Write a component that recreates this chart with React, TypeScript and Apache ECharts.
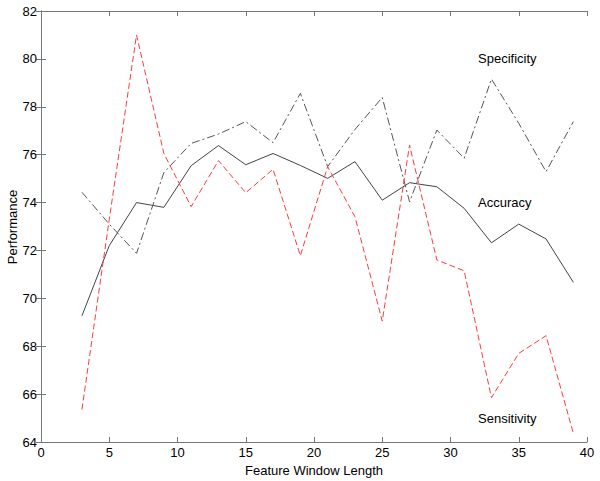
import React, { useEffect, useRef } from "react";
import * as echarts from "echarts";

const windowLengths = [3, 5, 7, 9, 11, 13, 15, 17, 19, 21, 23, 25, 27, 29, 31, 33, 35, 37, 39];
const accuracy = [69.27, 72.2, 74.0, 73.8, 75.54, 76.38, 75.58, 76.05, 75.55, 75.01, 75.71, 74.1, 74.83, 74.66, 73.76, 72.32, 73.1, 72.48, 70.67];
const specificity = [74.43, 73.1, 71.88, 75.25, 76.47, 76.86, 77.38, 76.5, 78.56, 75.5, 77.05, 78.39, 74.03, 77.03, 75.85, 79.16, 77.31, 75.29, 77.38];
const sensitivity = [65.36, 73.3, 81.0, 76.05, 73.83, 75.75, 74.41, 75.39, 71.78, 75.5, 73.41, 69.05, 76.4, 71.6, 71.15, 65.85, 67.7, 68.44, 64.36];
const xTicks = [0, 5, 10, 15, 20, 25, 30, 35, 40];
const yTicks = [64, 66, 68, 70, 72, 74, 76, 78, 80, 82];

const FONT = "Liberation Sans, Arial, sans-serif";

export default function App() {
  const ref = useRef<HTMLDivElement>(null);
  useEffect(() => {
    if (!ref.current) return;
    const chart = echarts.init(ref.current, null, { renderer: "svg" });
    const axisLine = { show: true, lineStyle: { color: "#777", width: 1 } };
    const ticks = { show: true, inside: true, length: 5, lineStyle: { color: "#777" } };
    const label = { color: "#000", fontSize: 13, fontFamily: FONT };
    const toPairs = (ys: number[]) => windowLengths.map((x, i) => [x, ys[i]]);
    chart.setOption({
      animation: false,
      backgroundColor: "#fff",
      grid: { left: 41, right: 13, top: 11, bottom: 39, containLabel: false, outerBoundsMode: "none" },
      xAxis: [
        {
          type: "value", min: xTicks[0], max: xTicks[xTicks.length - 1], interval: 5,
          axisLine, axisTick: ticks, splitLine: { show: false },
          axisLabel: { ...label, margin: 4 },
          name: "Feature Window Length", nameLocation: "middle", nameGap: 21,
          nameTextStyle: { color: "#000", fontSize: 13, fontFamily: FONT },
        },
        {
          type: "value", position: "top", min: 0, max: 40, interval: 5,
          axisLine, axisTick: ticks, splitLine: { show: false }, axisLabel: { show: false },
        },
      ],
      yAxis: [
        {
          type: "value", min: yTicks[0], max: yTicks[yTicks.length - 1], interval: 2,
          axisLine, axisTick: ticks, splitLine: { show: false },
          axisLabel: { ...label, margin: 4 },
        },
        {
          type: "value", position: "right", min: 64, max: 82, interval: 2,
          axisLine, axisTick: ticks, splitLine: { show: false }, axisLabel: { show: false },
        },
      ],
      series: [
        {
          name: "Accuracy", type: "line", data: toPairs(accuracy), symbol: "none",
          lineStyle: { color: "#444", width: 1, type: "solid" },
        },
        {
          name: "Specificity", type: "line", data: toPairs(specificity), symbol: "none",
          lineStyle: { color: "#555", width: 1, type: [8, 3, 2, 3] },
        },
        {
          name: "Sensitivity", type: "line", data: toPairs(sensitivity), symbol: "none",
          lineStyle: { color: "#ff3b3b", width: 1, type: [6, 3] },
        },
      ],
      graphic: [
        { type: "text", x: 12, y: 227, rotation: Math.PI / 2, style: { text: "Performance", fill: "#000", fontSize: 13, fontFamily: FONT, align: "center", verticalAlign: "middle" } },
        { type: "text", x: 478, y: 58, style: { text: "Specificity", fill: "#000", fontSize: 13, fontFamily: FONT, verticalAlign: "middle" } },
        { type: "text", x: 478, y: 202, style: { text: "Accuracy", fill: "#000", fontSize: 13, fontFamily: FONT, verticalAlign: "middle" } },
        { type: "text", x: 478, y: 418, style: { text: "Sensitivity", fill: "#000", fontSize: 13, fontFamily: FONT, verticalAlign: "middle" } },
      ],
    });
    return () => chart.dispose();
  }, []);
  return <div ref={ref} style={{ position: "fixed", left: 0, top: 0, width: 600, height: 481 }} />;
}
